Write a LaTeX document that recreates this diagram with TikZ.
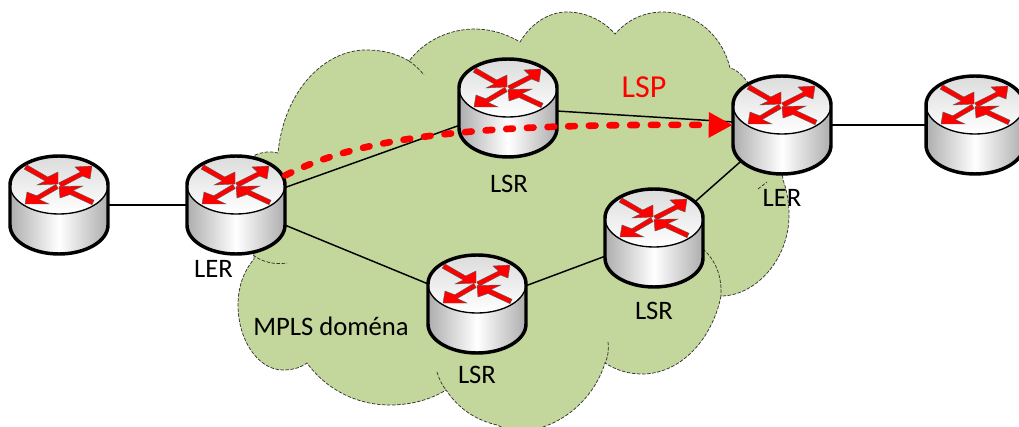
\documentclass[tikz,border=0pt]{standalone}
\usepackage{fontspec}
\setmainfont{Carlito}
\usepackage{tikz}
\usetikzlibrary{arrows.meta}
\definecolor{mplsgreen}{HTML}{C3D69B}
\tikzset{
	routerbox/.style={rectangle, minimum width=73.5pt, minimum height=73.5pt, inner sep=0pt},
	link/.style={draw=black, line width=1.1pt},
	label/.style={font=\fontsize{20}{24}\selectfont, inner sep=0pt},
	cloudline/.style={draw=black!80, line width=0.55pt, dash pattern=on 2.6pt off 1.2pt},
	redarrow/.style={fill=red, draw=black!65, line width=0.3pt},
	routericon/.pic={
		\path[left color=black!32, right color=black!32, middle color=white] (-49,-20) -- (-49,20) .. controls (-49,36) and (-27,49) .. (0,49) .. controls (27,49) and (49,36) .. (49,20) -- (49,-20) -- cycle;
		\draw[top color=black!14, bottom color=white, line width=1pt] (0,-20) ellipse [x radius=36.75pt, y radius=21.75pt];
		\draw[line width=2.6pt] (-49,-20) -- (-49,20) .. controls (-49,36) and (-27,49) .. (0,49) .. controls (27,49) and (49,36) .. (49,20) -- (49,-20) .. controls (49,-36) and (27,-49) .. (0,-49) .. controls (-27,-49) and (-49,-36) .. (-49,-20) -- cycle;
		\begin{scope}[shift={(0,-20)}]
			\draw[redarrow] (-1,-1) -- (-1,-13) -- (-11.3,-8) -- (-32.3,-20.2) -- (-34.7,-15.8) -- (-13.7,-4) -- (-22,0) -- cycle;
			\draw[redarrow] (33,-19) -- (16,-18) -- (21.5,-13) -- (-0.3,-2.1) -- (2.3,2.1) -- (23.5,-9) -- (31,-6) -- cycle;
			\draw[redarrow] (-34,19) -- (-32,7) -- (-22.2,10.8) -- (-3.2,-0.6) -- (-0.8,3.6) -- (-19.8,14.5) -- (-10,19) -- cycle;
			\draw[redarrow] (0,1.5) -- (24,1) -- (14,5.5) -- (35,15.3) -- (33,19.7) -- (11,9.5) -- (1,13) -- cycle;
		\end{scope}
	}
}

\begin{document}
\begin{tikzpicture}[x=0.75pt, y=-0.75pt]
	\clip (0,0) rectangle (1019,427);
	\draw[cloudline, fill=mplsgreen] (255,155) .. controls (262,152) and (270,151) .. (278,153)
		.. controls (284,90) and (325,50) .. (366,50) .. controls (383,50) and (398,54) .. (409,61)
		.. controls (425,40) and (450,29) .. (475,29) .. controls (490,29) and (507,34) .. (520,42)
		.. controls (532,22) and (550,12) .. (567,12) .. controls (585,12) and (603,20) .. (615,34)
		.. controls (628,19) and (645,12) .. (663,12) .. controls (695,12) and (722,35) .. (730,68)
		.. controls (750,72) and (778,130) .. (783,180) .. controls (787,190) and (789,203) .. (789,215)
		.. controls (789,260) and (755,296) .. (721,296)
		.. controls (712,340) and (680,374) .. (642,374) .. controls (628,374) and (616,370) .. (605,363)
		.. controls (595,395) and (570,418) .. (543,427) .. controls (528,432) and (510,432) .. (497,425)
		.. controls (475,420) and (458,408) .. (446,390)
		.. controls (430,400) and (410,405) .. (390,405) .. controls (355,405) and (325,388) .. (307,363)
		.. controls (300,368) and (292,370) .. (283,370) .. controls (258,370) and (238,340) .. (238,305)
		.. controls (238,288) and (243,272) .. (254,259) -- cycle;
	\draw[cloudline] (253,255) .. controls (262,262) and (275,265) .. (287,263);
	\draw[cloudline] (409,61) .. controls (415,65) and (420,70) .. (424,75);
	\draw[cloudline] (758,189) -- (767,182);
	\draw[cloudline] (703,249) .. controls (715,260) and (722,275) .. (721,296);
	\draw[cloudline] (608,342) .. controls (609,350) and (608,357) .. (605,363);
	\draw[cloudline] (437,372) .. controls (439,379) and (442,385) .. (446,390);

	\node[routerbox] (hostA) at (59,205) {};
	\node[routerbox] (lerA) at (236,205) {};
	\node[routerbox] (lsrA) at (508,108) {};
	\node[routerbox] (lsrB) at (477,304) {};
	\node[routerbox] (lsrC) at (654,238) {};
	\node[routerbox] (lerB) at (782,125) {};
	\node[routerbox] (hostB) at (975,125) {};

	\draw[link] (hostA) -- (lerA);
	\draw[link] (lerA) -- (lsrA);
	\draw[link] (lerA) -- (lsrB);
	\draw[link] (lsrB) -- (lsrC);
	\draw[link] (lsrA) -- (lerB);
	\draw[link] (lsrC.center) -- (lerB.center);
	\draw[link] (lerB) -- (hostB);

	\foreach \r in {hostA, lerA, lsrA, lsrB, lsrC, lerB, hostB}
		\pic at (\r) {routericon};

	\draw[red, line width=5pt, line cap=round, dash pattern=on 5pt off 10.5pt, -{Triangle[length=18pt, width=18pt]}] (lerA.31) .. controls (370,132) and (500,124) .. (lerB.west);

	\node[label] (lblLerA) at (213.5,269) {LER};
	\node[label] (lblLsrA) at (509,184) {LSR};
	\node[label] (lblLerB) at (782,198) {LER};
	\node[label] (lblLsrC) at (654,311) {LSR};
	\node[label] (lblLsrB) at (477,375) {LSR};
	\node[label] (lblMpls) at (331,326) {MPLS doména};
	\node[label, red, font=\fontsize{24}{28}\selectfont] (lblLsp) at (644,87) {LSP};
\end{tikzpicture}
\end{document}
